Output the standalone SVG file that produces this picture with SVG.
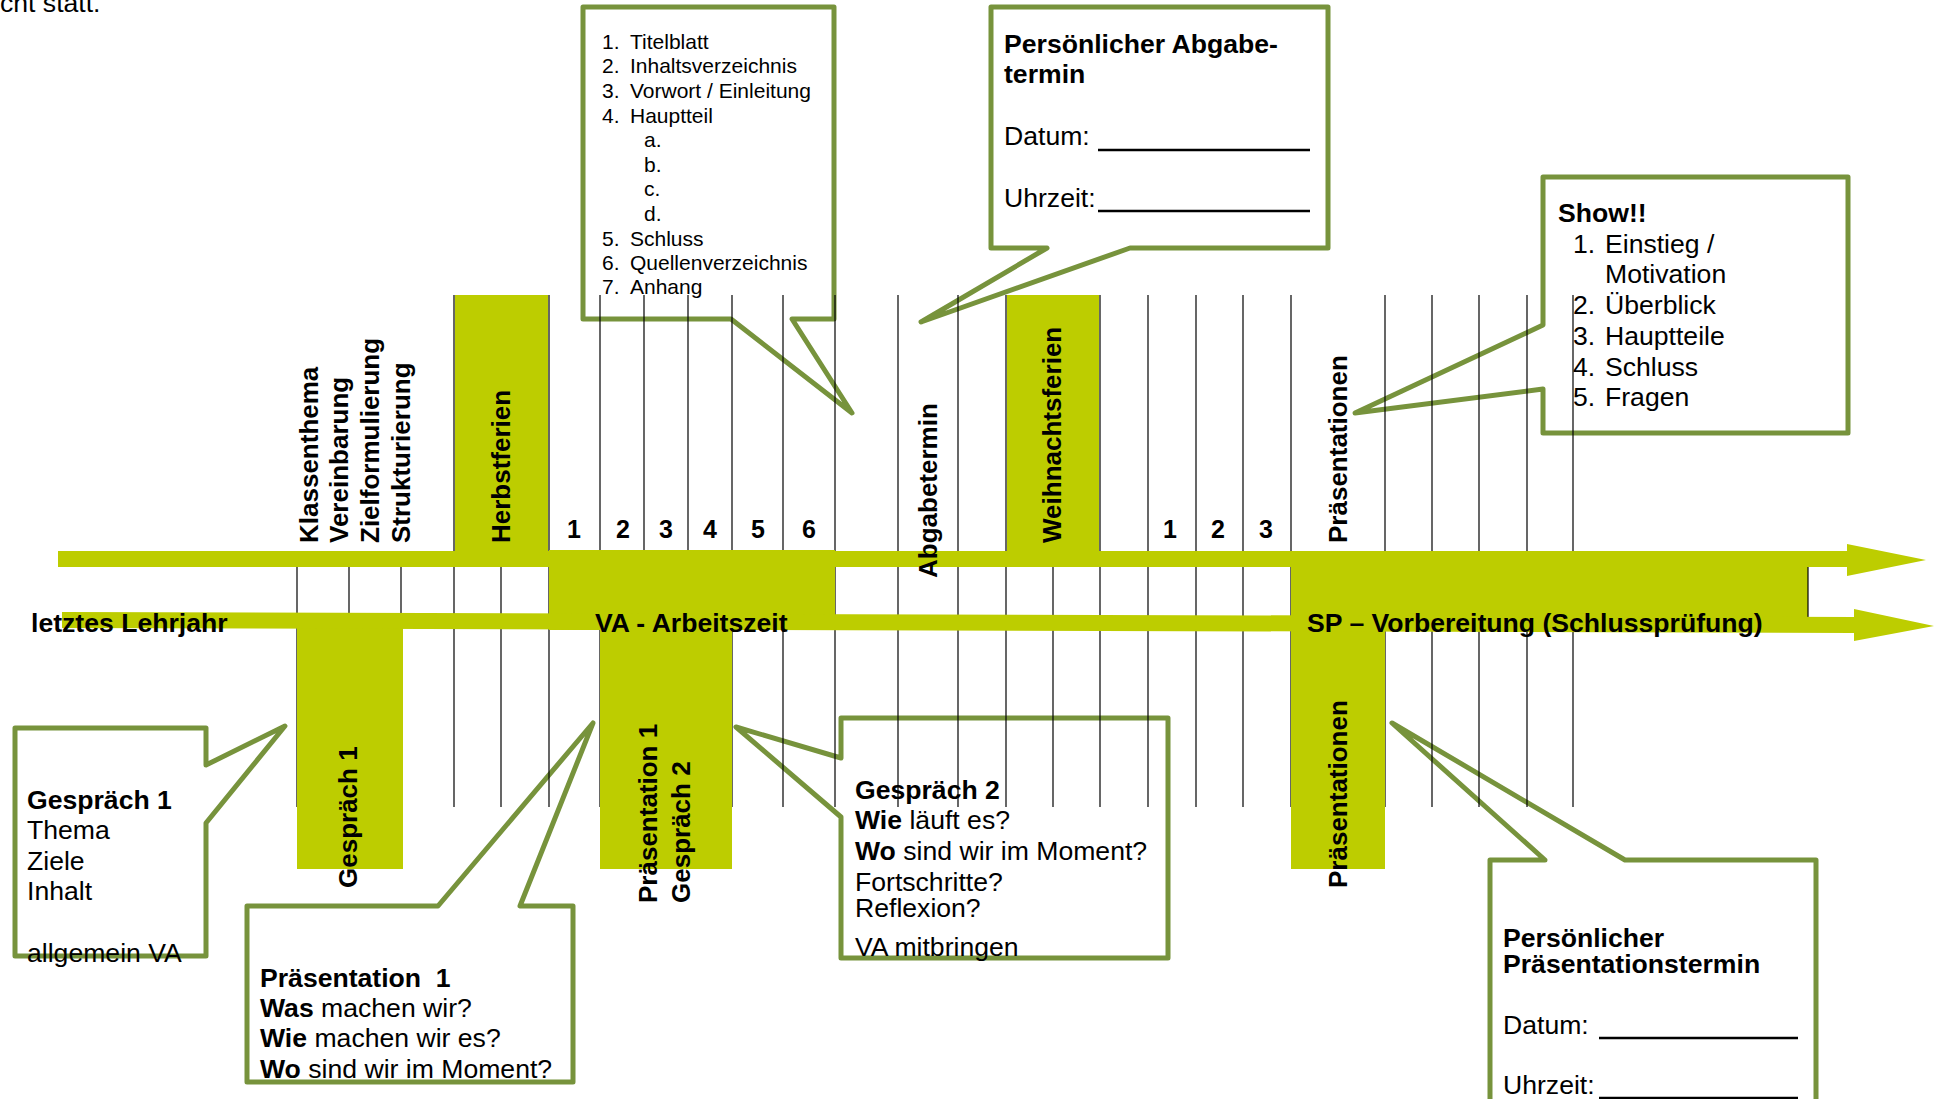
<svg xmlns="http://www.w3.org/2000/svg" width="1936" height="1099" viewBox="0 0 1936 1099">
<style>
text{font-family:"Liberation Sans",Arial,sans-serif;fill:#000}
.b{font-weight:bold}
.f26{font-size:26.6px}
.rot{font-size:26px;font-weight:bold}
.f21{font-size:21px}
.num{font-size:25px;font-weight:bold;text-anchor:middle}
.co{fill:#fff;stroke:#77933C;stroke-width:5;stroke-linejoin:round}
.gr{fill:#BDCD00}
.vl{stroke:#000;stroke-width:1.2}
.ul{stroke:#000;stroke-width:2.5}
</style>
<rect width="1936" height="1099" fill="#fff"/>
<text class="f26" x="0" y="12">cht statt.</text>

<g id="callout-gliederung">
<polygon class="co" points="583,7 834,7 834,319 792,319 852,413 731,319 583,319"/>
<g class="f21">
<text x="602" y="49">1.</text><text x="630" y="49">Titelblatt</text>
<text x="602" y="73">2.</text><text x="630" y="73">Inhaltsverzeichnis</text>
<text x="602" y="98">3.</text><text x="630" y="98">Vorwort / Einleitung</text>
<text x="602" y="123">4.</text><text x="630" y="123">Hauptteil</text>
<text x="644" y="147">a.</text>
<text x="644" y="172">b.</text>
<text x="644" y="196">c.</text>
<text x="644" y="221">d.</text>
<text x="602" y="246">5.</text><text x="630" y="246">Schluss</text>
<text x="602" y="270">6.</text><text x="630" y="270">Quellenverzeichnis</text>
<text x="602" y="294">7.</text><text x="630" y="294">Anhang</text>
</g>
</g>

<g id="callout-abgabetermin">
<polygon class="co" points="991,7 1328,7 1328,248 1130,248 921,322 1047,248 991,248"/>
<text class="f26 b" x="1004" y="53">Persönlicher Abgabe-</text>
<text class="f26 b" x="1004" y="83">termin</text>
<text class="f26" x="1004" y="145">Datum:</text>
<line class="ul" x1="1098" y1="150" x2="1310" y2="150"/>
<text class="f26" x="1004" y="207">Uhrzeit:</text>
<line class="ul" x1="1098" y1="211" x2="1310" y2="211"/>
</g>

<g id="callout-show">
<polygon class="co" points="1543,177 1848,177 1848,433 1543,433 1543,389 1355,413 1543,325"/>
<text class="f26 b" x="1558" y="222">Show!!</text>
<g class="f26">
<text x="1573" y="253">1.</text><text x="1605" y="253">Einstieg /</text>
<text x="1605" y="283">Motivation</text>
<text x="1573" y="314">2.</text><text x="1605" y="314">Überblick</text>
<text x="1573" y="345">3.</text><text x="1605" y="345">Hauptteile</text>
<text x="1573" y="376">4.</text><text x="1605" y="376">Schluss</text>
<text x="1573" y="406">5.</text><text x="1605" y="406">Fragen</text>
</g>
</g>

<g id="callout-gespraech1">
<polygon class="co" points="15,728 206,728 206,765 285,726 206,823 206,956 15,956"/>
<text class="f26 b" x="27" y="809">Gespräch 1</text>
<text class="f26" x="27" y="839">Thema</text>
<text class="f26" x="27" y="870">Ziele</text>
<text class="f26" x="27" y="900">Inhalt</text>
<text class="f26" x="27" y="962">allgemein VA</text>
</g>

<g id="callout-praesentation1">
<polygon class="co" points="247,906 438,906 593,723 520,906 573,906 573,1082 247,1082"/>
<text class="f26 b" x="260" y="987" xml:space="preserve">Präsentation  1</text>
<text class="f26" x="260" y="1017"><tspan class="b">Was</tspan> machen wir?</text>
<text class="f26" x="260" y="1047"><tspan class="b">Wie</tspan> machen wir es?</text>
<text class="f26" x="260" y="1078"><tspan class="b">Wo</tspan> sind wir im Moment?</text>
</g>

<g id="callout-gespraech2">
<polygon class="co" points="841,718 1168,718 1168,958 841,958 841,817 736,727 841,758"/>
<text class="f26 b" x="855" y="799">Gespräch 2</text>
<text class="f26" x="855" y="829"><tspan class="b">Wie</tspan> läuft es?</text>
<text class="f26" x="855" y="860"><tspan class="b">Wo</tspan> sind wir im Moment?</text>
<text class="f26" x="855" y="891">Fortschritte?</text>
<text class="f26" x="855" y="917">Reflexion?</text>
<text class="f26" x="855" y="956">VA mitbringen</text>
</g>

<g id="callout-praesentationstermin">
<polygon class="co" points="1490,860 1545,860 1392,723 1625,860 1816,860 1816,1115 1490,1115"/>
<text class="f26 b" x="1503" y="947">Persönlicher</text>
<text class="f26 b" x="1503" y="973">Präsentationstermin</text>
<text class="f26" x="1503" y="1034">Datum:</text>
<line class="ul" x1="1599" y1="1038" x2="1798" y2="1038"/>
<text class="f26" x="1503" y="1094">Uhrzeit:</text>
<line class="ul" x1="1599" y1="1098" x2="1798" y2="1098"/>
</g>

<g id="grid">
<g class="vl">
<line x1="454" y1="295" x2="454" y2="807"/>
<line x1="549" y1="295" x2="549" y2="807"/>
<line x1="600" y1="295" x2="600" y2="807"/>
<line x1="644" y1="295" x2="644" y2="807"/>
<line x1="688" y1="295" x2="688" y2="807"/>
<line x1="732" y1="295" x2="732" y2="807"/>
<line x1="783" y1="295" x2="783" y2="807"/>
<line x1="835" y1="295" x2="835" y2="807"/>
<line x1="898" y1="295" x2="898" y2="807"/>
<line x1="958" y1="295" x2="958" y2="807"/>
<line x1="1006" y1="295" x2="1006" y2="807"/>
<line x1="1100" y1="295" x2="1100" y2="807"/>
<line x1="1148" y1="295" x2="1148" y2="807"/>
<line x1="1196" y1="295" x2="1196" y2="807"/>
<line x1="1243" y1="295" x2="1243" y2="807"/>
<line x1="1291" y1="295" x2="1291" y2="807"/>
<line x1="1385" y1="295" x2="1385" y2="807"/>
<line x1="1432" y1="295" x2="1432" y2="807"/>
<line x1="1479" y1="295" x2="1479" y2="807"/>
<line x1="1527" y1="295" x2="1527" y2="807"/>
<line x1="1573" y1="295" x2="1573" y2="807"/>
<line x1="297" y1="566" x2="297" y2="807"/>
<line x1="349" y1="566" x2="349" y2="807"/>
<line x1="401" y1="566" x2="401" y2="807"/>
<line x1="501" y1="566" x2="501" y2="807"/>
<line x1="1053" y1="566" x2="1053" y2="807"/>
</g>
</g>

<g id="blocks">
<rect id="herbstferien-block" class="gr" x="455" y="295" width="93" height="258"/>
<rect id="weihnachtsferien-block" class="gr" x="1007" y="295" width="92" height="258"/>
<rect id="va-block" class="gr" x="549" y="550" width="286" height="80"/>
<rect id="sp-block" class="gr" x="1291" y="551" width="517" height="75"/>
<rect id="gespraech1-block" class="gr" x="297" y="620" width="106" height="249"/>
<rect id="praesentation1-block" class="gr" x="600" y="620" width="132" height="249"/>
<rect id="praesentationen-block" class="gr" x="1291" y="620" width="94" height="249"/>
<line class="vl" x1="1808" y1="567" x2="1808" y2="617"/>
</g>

<g id="connectors">
<polygon class="gr" points="58,551 1847,551 1847,544 1926,560 1847,576 1847,567 58,567"/>
<polygon class="gr" points="62,612 1854,617 1854,609 1934,626 1854,641 1854,633 62,628"/>
</g>

<g id="labels">
<text class="f26 b" x="31" y="632">letztes Lehrjahr</text>
<text class="f26 b" x="595" y="632">VA - Arbeitszeit</text>
<text class="f26 b" x="1307" y="632">SP – Vorbereitung (Schlussprüfung)</text>
<text class="rot" transform="translate(318,543) rotate(-90)">Klassenthema</text>
<text class="rot" transform="translate(348,543) rotate(-90)">Vereinbarung</text>
<text class="rot" transform="translate(379,543) rotate(-90)">Zielformulierung</text>
<text class="rot" transform="translate(410,543) rotate(-90)">Strukturierung</text>
<text class="rot" transform="translate(510,543) rotate(-90)">Herbstferien</text>
<text class="rot" transform="translate(937,578) rotate(-90)">Abgabetermin</text>
<text class="rot" transform="translate(1061,543) rotate(-90)">Weihnachtsferien</text>
<text class="rot" transform="translate(1347,543) rotate(-90)">Präsentationen</text>
<text class="rot" transform="translate(357,888) rotate(-90)">Gespräch 1</text>
<text class="rot" transform="translate(657,903) rotate(-90)">Präsentation 1</text>
<text class="rot" transform="translate(690,903) rotate(-90)">Gespräch 2</text>
<text class="rot" transform="translate(1347,888) rotate(-90)">Präsentationen</text>
</g>

<g id="week-numbers">
<text class="num" x="574" y="538">1</text>
<text class="num" x="623" y="538">2</text>
<text class="num" x="666" y="538">3</text>
<text class="num" x="710" y="538">4</text>
<text class="num" x="758" y="538">5</text>
<text class="num" x="809" y="538">6</text>
<text class="num" x="1170" y="538">1</text>
<text class="num" x="1218" y="538">2</text>
<text class="num" x="1266" y="538">3</text>
</g>
</svg>
